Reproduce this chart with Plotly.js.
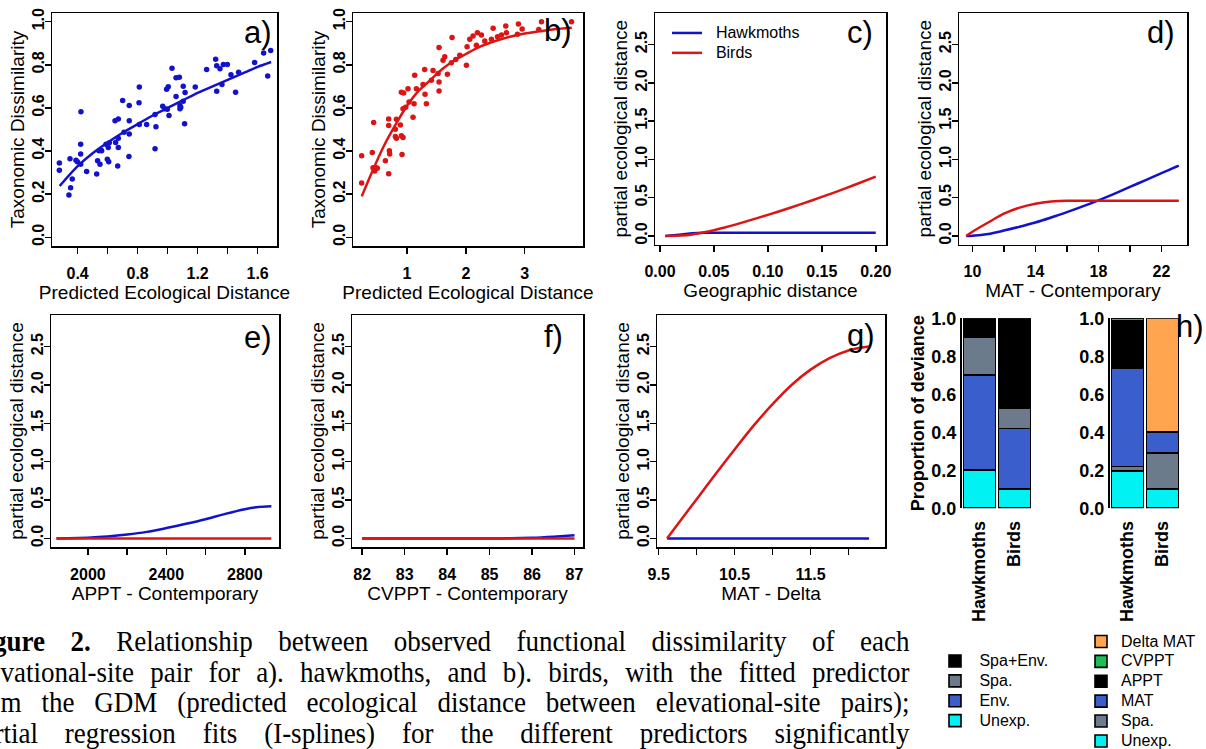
<!DOCTYPE html>
<html><head><meta charset="utf-8">
<script src="https://cdn.plot.ly/plotly-3.0.1.min.js"></script>
<style>
html,body{margin:0;padding:0;background:#fff;overflow:hidden;width:1206px;height:749px;}
#wrap{position:relative;width:1206px;height:749px;overflow:hidden;}
#chart{position:absolute;left:0;top:0;width:1206px;height:749px;}
.cap{position:absolute;left:-31px;width:1045px;font-family:'Liberation Serif','Times New Roman',serif;font-size:30px;line-height:30px;text-align:justify;text-align-last:justify;color:#000;transform:scaleX(0.9);transform-origin:0 0;}
</style></head>
<body>
<div id="wrap">
<div id="chart"></div>
<div class="cap" style="top:626px"><b>Figure 2.</b> Relationship between observed functional dissimilarity of each</div>
<div class="cap" style="top:657px">elevational-site pair for a). hawkmoths, and b). birds, with the fitted predictor</div>
<div class="cap" style="top:687px">from the GDM (predicted ecological distance between elevational-site pairs);</div>
<div class="cap" style="top:718px">partial regression fits (I-splines) for the different predictors significantly</div>
</div>
<script>
// ---------- data ----------
// a) hawkmoths: observed dissimilarity vs predicted ecological distance
const hawkPredX = [0.278,0.278,0.342,0.353,0.364,0.349,0.389,0.398,0.420,0.420,0.422,0.420,0.460,0.527,0.533,0.549,0.542,0.560,0.556,0.589,0.604,0.598,0.607,0.611,0.649,0.671,0.653,0.671,0.671,0.667,0.700,0.709,0.744,0.744,0.744,0.742,0.811,0.809,0.811,0.860,0.916,0.922,0.916,0.967,0.982,0.998,1.009,0.993,1.004,1.029,1.056,1.078,1.082,1.082,1.087,1.056,1.104,1.104,1.116,1.113,1.184,1.260,1.320,1.327,1.349,1.371,1.398,1.327,1.362,1.422,1.453,1.473,1.580,1.640,1.687,1.667];
const hawkObsY = [0.345,0.311,0.196,0.230,0.271,0.365,0.358,0.350,0.386,0.432,0.582,0.339,0.305,0.294,0.355,0.339,0.401,0.401,0.404,0.432,0.417,0.362,0.351,0.439,0.541,0.549,0.440,0.460,0.417,0.331,0.635,0.487,0.611,0.541,0.479,0.375,0.697,0.624,0.523,0.523,0.569,0.513,0.411,0.608,0.596,0.594,0.565,0.686,0.698,0.784,0.740,0.742,0.611,0.596,0.603,0.653,0.700,0.631,0.672,0.527,0.697,0.778,0.826,0.796,0.782,0.801,0.801,0.677,0.709,0.754,0.673,0.765,0.810,0.855,0.866,0.748];
const hawkFitX = [0.28,0.4,0.5,0.6,0.7,0.8,0.9,1.0,1.1,1.2,1.3,1.4,1.5,1.6,1.69];
const hawkFitY = [0.238,0.33,0.39,0.44,0.485,0.525,0.565,0.60,0.635,0.67,0.70,0.73,0.76,0.79,0.813];
// b) birds
const birdPredX = [0.229,0.229,0.410,0.433,0.422,0.450,0.478,0.495,0.632,0.688,0.688,0.688,0.700,0.705,0.802,0.819,0.802,0.819,0.887,0.904,0.932,0.915,0.904,0.943,0.932,0.977,1.017,1.034,1.102,1.119,1.130,1.159,1.272,1.300,1.329,1.306,1.414,1.442,1.544,1.544,1.544,1.527,1.612,1.641,1.686,1.765,1.754,1.828,1.896,2.009,2.020,2.066,2.122,2.179,2.196,2.264,2.321,2.434,2.463,2.537,2.605,2.678,2.689,2.876,2.893,2.956,3.285,3.239,3.795];
const birdObsY = [0.378,0.252,0.393,0.532,0.323,0.308,0.323,0.320,0.355,0.295,0.549,0.518,0.401,0.386,0.501,0.547,0.468,0.460,0.521,0.471,0.463,0.384,0.673,0.669,0.596,0.603,0.689,0.627,0.557,0.619,0.751,0.689,0.709,0.778,0.619,0.663,0.728,0.774,0.720,0.678,0.880,0.759,0.821,0.837,0.756,0.927,0.809,0.824,0.844,0.798,0.883,0.918,0.933,0.891,0.949,0.938,0.910,0.918,0.969,0.930,0.938,0.980,0.949,0.942,0.989,0.966,1.000,0.964,1.000];
const birdFitX = [0.23,0.4,0.6,0.8,1.0,1.2,1.4,1.6,1.8,2.0,2.25,2.5,2.75,3.0,3.25,3.5,3.8];
const birdFitY = [0.19,0.30,0.42,0.52,0.61,0.68,0.73,0.78,0.82,0.85,0.885,0.91,0.93,0.945,0.955,0.965,0.972];
// c) geographic distance
const geoX    = [0.005,0.02,0.03,0.04,0.05,0.06,0.08,0.10,0.12,0.14,0.16,0.18,0.20];
const geoHawk = [0,0.02,0.035,0.042,0.043,0.043,0.043,0.043,0.043,0.043,0.043,0.043,0.043];
const geoBird = [0,0.006,0.02,0.045,0.075,0.11,0.19,0.275,0.365,0.46,0.56,0.665,0.775];
// d) MAT - contemporary
const matX    = [9.6,10,11,12,13,14,15,15.5,16,17,18,19,20,21,22,23,23.1];
const matHawk = [0,0.003,0.025,0.07,0.12,0.175,0.24,0.275,0.31,0.385,0.465,0.55,0.64,0.73,0.82,0.91,0.92];
const matBird = [0,0.055,0.175,0.29,0.37,0.42,0.45,0.457,0.46,0.46,0.46,0.46,0.46,0.46,0.46,0.46,0.46];
// e) APPT - contemporary
const apptX    = [1840,1900,2000,2100,2200,2300,2400,2500,2600,2700,2800,2870,2935];
const apptHawk = [0,0.002,0.01,0.025,0.05,0.085,0.135,0.19,0.25,0.32,0.38,0.41,0.42];
const apptBird = [0,0,0,0,0,0,0,0,0,0,0,0,0];
// f) CVPPT - contemporary
const cvpptX    = [82,83,84,85,85.5,86,86.5,87];
const cvpptHawk = [0,0,0,0,0.001,0.008,0.022,0.04];
const cvpptBird = [0,0,0,0,0,0,0,0];
// g) MAT - delta
const dmatX    = [9.61,9.8,10.0,10.25,10.5,10.75,11.0,11.25,11.5,11.75,12.0,12.27];
const dmatBird = [0,0.25,0.51,0.84,1.16,1.47,1.75,2.0,2.2,2.35,2.45,2.5];
const dmatHawk = [0,0,0,0,0,0,0,0,0,0,0,0];
// h) proportion of deviance
const barGroups = ['Hawkmoths','Birds'];
const partUnexp  = [0.20,0.10];
const partEnv    = [0.50,0.32];
const partSpa    = [0.20,0.105];
const partSpaEnv = [0.10,0.475];
const predUnexp    = [0.196,0.10];
const predSpa      = [0.023,0.19];
const predMAT      = [0.518,0.11];
const predAPPT     = [0.250,0];
const predCVPPT    = [0.013,0];
const predDeltaMAT = [0,0.60];
// tick labels
const tickA = [0.4,0.6,0.8,1.0,1.2,1.4,1.6], tickAText = ['0.4','','0.8','','1.2','','1.6'];
const tickB = [1,2,3], tickBText = ['1','2','3'];
const tickDiss = [0,0.2,0.4,0.6,0.8,1.0], tickDissText = ['0.0','0.2','0.4','0.6','0.8','1.0'];
const tickC = [0,0.05,0.10,0.15,0.20], tickCText = ['0.00','0.05','0.10','0.15','0.20'];
const tickD = [10,12,14,16,18,20,22], tickDText = ['10','','14','','18','','22'];
const tickE = [2000,2200,2400,2600,2800], tickEText = ['2000','','2400','','2800'];
const tickF = [82,83,84,85,86,87], tickFText = ['82','83','84','85','86','87'];
const tickG = [9.5,10,10.5,11,11.5,12], tickGText = ['9.5','','10.5','','11.5',''];
const tickPart = [0,0.5,1.0,1.5,2.0,2.5], tickPartText = ['0.0','0.5','1.0','1.5','2.0','2.5'];
const tickProp = [0,0.2,0.4,0.6,0.8,1.0], tickPropText = ['0.0','0.2','0.4','0.6','0.8','1.0'];

// ---------- style ----------
const W = 1206, H = 749;
const FONT = 'Liberation Sans, Arial, Helvetica, sans-serif';
const BLUE = '#1212CC', RED = '#DC1414';
const C_UNEXP = '#00F2F2', C_SPA = '#6C7B8B', C_ENV = '#3A5FCD', C_SPAENV = '#000000', C_CVPPT = '#1DBE5A', C_DMAT = '#FFA550';
function dx(a,b){return [a/W,b/W];}
function dy(top,bottom){return [1-bottom/H,1-top/H];}
const tickFont = {family:FONT,size:16,color:'#000',weight:'bold'};
const titleFont = {family:FONT,size:19,color:'#000'};
function xAx(dom,range,vals,text,title,anchor){
  return {domain:dom,range:range,anchor:anchor,showgrid:false,zeroline:false,showline:true,mirror:true,
    linecolor:'#000',linewidth:1.5,ticks:'outside',ticklen:6,tickwidth:1.5,tickcolor:'#000',
    tickmode:'array',tickvals:vals,ticktext:text,tickfont:tickFont,ticklabelstandoff:6,
    title:{text:title,font:titleFont,standoff:0},fixedrange:true};
}
function yAx(dom,range,vals,text,title,anchor){
  return {domain:dom,range:range,anchor:anchor,showgrid:false,zeroline:false,showline:true,mirror:true,
    linecolor:'#000',linewidth:1.5,ticks:'outside',ticklen:6,tickwidth:1.5,tickcolor:'#000',
    tickmode:'array',tickvals:vals,ticktext:text,tickfont:tickFont,tickangle:-90,ticklabelstandoff:-6,
    title:{text:title,font:titleFont,standoff:0},fixedrange:true};
}
function line(x,y,color,xa,ya,name,show){
  return {type:'scatter',mode:'lines',x:x,y:y,xaxis:xa,yaxis:ya,name:name,showlegend:!!show,
    legend:'legend',line:{color:color,width:2.5,shape:'spline',smoothing:0.8},hoverinfo:'skip'};
}
function lg(t,pad){return '<span style="font-size:16px">'+(pad||'')+t+'</span>';}
function bar(y,name,color,xa,ya,leg,pad){
  return {type:'bar',x:barGroups,y:y,name:lg(name,pad),xaxis:xa,yaxis:ya,legend:leg,width:0.92,
    marker:{color:color,line:{color:'#000',width:1.6}},hoverinfo:'skip'};
}
const NB2 = '\u00a0\u00a0', NB1 = '\u00a0';

const traces = [
  {type:'scatter',mode:'markers',x:hawkPredX,y:hawkObsY,xaxis:'x',yaxis:'y',showlegend:false,
    marker:{color:BLUE,size:5.5},hoverinfo:'skip'},
  line(hawkFitX,hawkFitY,BLUE,'x','y','fit',false),
  {type:'scatter',mode:'markers',x:birdPredX,y:birdObsY,xaxis:'x2',yaxis:'y2',showlegend:false,
    marker:{color:RED,size:5.5},hoverinfo:'skip'},
  line(birdFitX,birdFitY,RED,'x2','y2','fit',false),
  line(geoX,geoHawk,BLUE,'x3','y3',lg('Hawkmoths',NB2),true),
  line(geoX,geoBird,RED,'x3','y3',lg('Birds',NB2),true),
  line(matX,matHawk,BLUE,'x4','y4','Hawkmoths',false),
  line(matX,matBird,RED,'x4','y4','Birds',false),
  line(apptX,apptHawk,BLUE,'x5','y5','Hawkmoths',false),
  line(apptX,apptBird,RED,'x5','y5','Birds',false),
  line(cvpptX,cvpptHawk,BLUE,'x6','y6','Hawkmoths',false),
  line(cvpptX,cvpptBird,RED,'x6','y6','Birds',false),
  line(dmatX,dmatHawk,BLUE,'x7','y7','Hawkmoths',false),
  line(dmatX,dmatBird,RED,'x7','y7','Birds',false),
  bar(partUnexp,'Unexp.',C_UNEXP,'x8','y8','legend2',NB1),
  bar(partEnv,'Env.',C_ENV,'x8','y8','legend2',NB1),
  bar(partSpa,'Spa.',C_SPA,'x8','y8','legend2',NB1),
  bar(partSpaEnv,'Spa+Env.',C_SPAENV,'x8','y8','legend2',NB1),
  bar(predUnexp,'Unexp.',C_UNEXP,'x9','y9','legend3'),
  bar(predSpa,'Spa.',C_SPA,'x9','y9','legend3'),
  bar(predMAT,'MAT',C_ENV,'x9','y9','legend3'),
  bar(predAPPT,'APPT',C_SPAENV,'x9','y9','legend3'),
  bar(predCVPPT,'CVPPT',C_CVPPT,'x9','y9','legend3'),
  bar(predDeltaMAT,'Delta MAT',C_DMAT,'x9','y9','legend3')
];

const yPartRange = [-0.112,2.912];
function barX(dom){
  return {domain:dom,range:[-0.5,1.5],type:'category',showgrid:false,zeroline:false,showline:false,
    ticks:'',tickangle:-90,tickfont:{family:FONT,size:18,color:'#000',weight:'bold'},ticklabelstandoff:8,fixedrange:true};
}
function barY(dom,title){
  return {domain:dom,range:[0,1],showgrid:false,zeroline:false,showline:true,linecolor:'#000',linewidth:2,
    ticks:'',tickmode:'array',tickvals:tickProp,ticktext:tickPropText,
    tickfont:{family:FONT,size:18,color:'#000',weight:'bold'},ticklabelstandoff:0,
    title:{text:title,font:{family:FONT,size:18,color:'#000',weight:'bold'},standoff:2},fixedrange:true};
}
const legFont = {family:FONT,size:13,color:'#000'};
function letter(t,xr,yc){
  return {text:t,x:xr/W,y:1-yc/H,xref:'paper',yref:'paper',xanchor:'right',yanchor:'middle',
    showarrow:false,font:{family:FONT,size:31,color:'#000'}};
}

const hDom = dy(318.3,508.3);
const xa8 = barX(dx(962,1032)); xa8.anchor='y8';
const xa9 = barX(dx(1110,1180)); xa9.anchor='y9';
const ya8 = barY(hDom,'Proportion of deviance'); ya8.anchor='x8';
const ya9 = barY(hDom,''); ya9.anchor='x9';

const layout = {
  width:W,height:H,margin:{l:0,r:0,t:0,b:0,autoexpand:false},paper_bgcolor:'#fff',plot_bgcolor:'#fff',
  font:{family:FONT,color:'#000'},barmode:'stack',showlegend:true,
  xaxis: xAx(dx(52,277),[0.229,1.729],tickA,tickAText,'Predicted Ecological Distance','y'),
  yaxis: yAx(dy(13,246),[-0.04,1.04],tickDiss,tickDissText,'Taxonomic Dissimilarity','x'),
  xaxis2:xAx(dx(353,583),[0.082,3.99],tickB,tickBText,'Predicted Ecological Distance','y2'),
  yaxis2:yAx(dy(13,246),[-0.04,1.04],tickDiss,tickDissText,'Taxonomic Dissimilarity','x2'),
  xaxis3:xAx(dx(655,886),[-0.0046,0.2095],tickC,tickCText,'Geographic distance','y3'),
  yaxis3:yAx(dy(13,244.5),yPartRange,tickPart,tickPartText,'partial ecological distance','x3'),
  xaxis4:xAx(dx(959,1187),[9.15,23.62],tickD,tickDText,'MAT - Contemporary','y4'),
  yaxis4:yAx(dy(13,244.5),yPartRange,tickPart,tickPartText,'partial ecological distance','x4'),
  xaxis5:xAx(dx(51,279),[1812,2974],tickE,tickEText,'APPT - Contemporary','y5'),
  yaxis5:yAx(dy(315,547),yPartRange,tickPart,tickPartText,'partial ecological distance','x5'),
  xaxis6:xAx(dx(352,583),[81.76,87.2],tickF,tickFText,'CVPPT - Contemporary','y6'),
  yaxis6:yAx(dy(315,547),yPartRange,tickPart,tickPartText,'partial ecological distance','x6'),
  xaxis7:xAx(dx(657,885),[9.478,12.48],tickG,tickGText,'MAT - Delta','y7'),
  yaxis7:yAx(dy(315,547),yPartRange,tickPart,tickPartText,'partial ecological distance','x7'),
  xaxis8:xa8, yaxis8:ya8, xaxis9:xa9, yaxis9:ya9,
  legend:{x:667/W,y:1-18/H,xanchor:'left',yanchor:'top',bgcolor:'rgba(0,0,0,0)',font:legFont,tracegroupgap:0},
  legend2:{x:935/W,y:1-646/H,xanchor:'left',yanchor:'top',bgcolor:'rgba(0,0,0,0)',font:legFont,traceorder:'reversed',tracegroupgap:0},
  legend3:{x:1081/W,y:1-626.5/H,xanchor:'left',yanchor:'top',bgcolor:'rgba(0,0,0,0)',font:legFont,traceorder:'reversed',tracegroupgap:0},
  annotations:[
    letter('a)',274,33), letter('b)',574,30), letter('c)',875,33), letter('d)',1177,33),
    letter('e)',274,337), letter('f)',565,336), letter('g)',877,335), letter('h)',1206,326)
  ]
};
Plotly.newPlot('chart',traces,layout,{displayModeBar:false,staticPlot:true});
</script>
</body></html>
